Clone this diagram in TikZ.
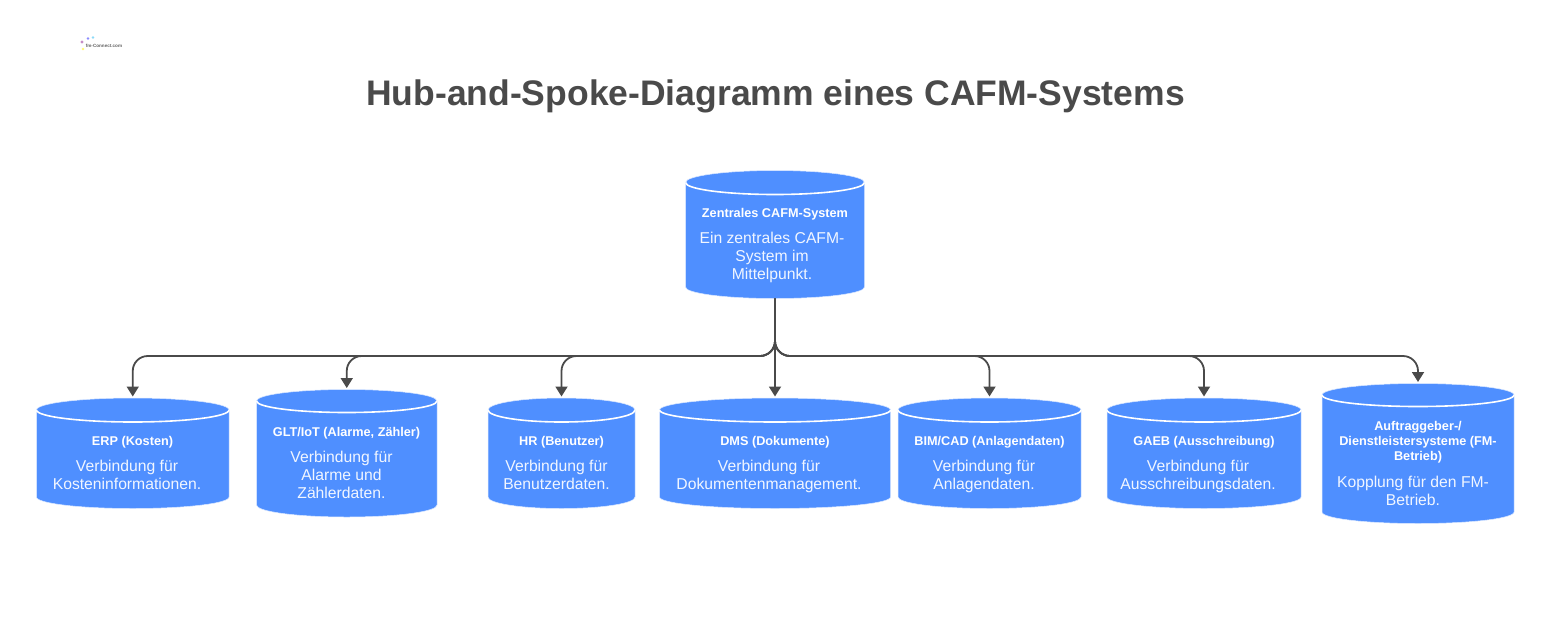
\documentclass[tikz,border=0pt]{standalone}
\usepackage{fontspec}
\setmainfont{Liberation Sans}
\usetikzlibrary{arrows.meta}
\definecolor{cylblue}{HTML}{4F8FFF}
\definecolor{ink}{HTML}{4A4A4A}
\tikzset{
  x=1pt,y=-1pt,
  cylbox/.style={rectangle,inner sep=0pt,outer sep=0pt,draw=none},
  cylfill/.style={fill=cylblue,draw=cylblue!20!white,line width=0.5pt},
  cylrim/.style={draw=white,line width=1.6pt},
  cyltitle/.style={text=white,align=center,font=\fontsize{12.7}{14.8}\selectfont\bfseries,inner sep=0pt},
  cyldesc/.style={text=white!92!cylblue,align=center,font=\fontsize{15.7}{18}\selectfont,inner sep=0pt},
  link/.style={draw=ink,line width=1.8pt,rounded corners=15pt,-{Triangle[length=10pt,width=12pt]}},
  trunk/.style={draw=ink,line width=1.8pt,-{Triangle[length=10pt,width=12pt]}},
  heading/.style={text=ink,font=\fontsize{35.5}{42}\selectfont\bfseries,inner sep=0pt}
}
% name, left, right, top, mid, sideEnd, bottom
\newcommand{\cylshape}[7]{%
  \pgfmathsetmacro{\cx}{(#2+#3)/2}\pgfmathsetmacro{\rx}{(#3-#2)/2}%
  \pgfmathsetmacro{\ry}{#5-#4}\pgfmathsetmacro{\ryb}{#7-#6}%
  \path[cylfill] (#2,#5) -- (#2,#6) arc[start angle=180,end angle=360,x radius=\rx,y radius=-\ryb]
     -- (#3,#5) arc[start angle=0,end angle=180,x radius=\rx,y radius=-\ry] -- cycle;
  \path[cylrim] (#2,#5) arc[start angle=180,end angle=360,x radius=\rx,y radius=-\ry];
  \node[cylbox,minimum width=#3 pt-#2 pt,minimum height=#7 pt-#4 pt] (#1) at (\cx,{(#4+#7)/2}) {};
}
\begin{document}
\begin{tikzpicture}
\useasboundingbox (0,0) rectangle (1558,622);
\fill[white] (0,0) rectangle (1558,622);

% logo
\fill[white!55!violet] (82,42) circle (1.6);
\fill[white!55!blue] (88,38.5) circle (1.4);
\fill[white!45!yellow] (83,49) circle (1.4);
\fill[white!55!cyan] (93,37.5) circle (1.4);
\node[inner sep=0pt,text=ink!85,font=\fontsize{4.6}{5}\selectfont\bfseries] (logo) at (104,45.5) {fm-Connect.com};

\node[heading] (title) at (775.5,96.5) {Hub-and-Spoke-Diagramm eines CAFM-Systems};

\cylshape{hub}{685.5}{864.5}{170.5}{182.5}{287}{298.5}
\cylshape{erp}{36.5}{229}{398}{410}{497}{508.5}
\cylshape{glt}{256.5}{437}{389.5}{401}{505}{517}
\cylshape{hr}{488}{635}{398}{410}{497}{508.5}
\cylshape{dms}{659.5}{890.5}{398}{410}{497}{508.5}
\cylshape{bim}{898}{1081}{398}{410}{497}{508.5}
\cylshape{gaeb}{1107}{1301}{398}{410}{497}{508.5}
\cylshape{auf}{1322}{1514}{383.5}{395}{512}{523.5}

\node[cyltitle] (hubt) at (775,214.5) {Zentrales CAFM-System};
\node[cyldesc] (hubd) at (772,257.5) {Ein zentrales CAFM-\\System im\\Mittelpunkt.};
\node[cyltitle] (erpt) at (132.5,442) {ERP (Kosten)};
\node[cyldesc] (erpd) at (127,475) {Verbindung für\\Kosteninformationen.};
\node[cyltitle] (gltt) at (346.5,433) {GLT/IoT (Alarme, Zähler)};
\node[cyldesc] (gltd) at (341.5,475) {Verbindung für\\Alarme und\\Zählerdaten.};
\node[cyltitle] (hrt) at (561.5,442) {HR (Benutzer)};
\node[cyldesc] (hrd) at (556.5,475) {Verbindung für\\Benutzerdaten.};
\node[cyltitle] (dmst) at (775,442) {DMS (Dokumente)};
\node[cyldesc] (dmsd) at (769,476.5) {Verbindung für\\Dokumentenmanagement.};
\node[cyltitle] (bimt) at (989.5,442) {BIM/CAD (Anlagendaten)};
\node[cyldesc] (bimd) at (984,476.5) {Verbindung für\\Anlagendaten.};
\node[cyltitle] (gaebt) at (1204,442) {GAEB (Ausschreibung)};
\node[cyldesc] (gaebd) at (1198,476.5) {Verbindung für\\Ausschreibungsdaten.};
\node[cyltitle] (auft) at (1418,442) {Auftraggeber-/\\Dienstleistersysteme (FM-\\Betrieb)};
\node[cyldesc] (aufd) at (1413,490.5) {Kopplung für den FM-\\Betrieb.};

\coordinate (busy) at (775,356);
\foreach \t in {erp,glt,hr,bim,gaeb,auf}{
  \draw[link] (hub.south) -- (hub.south |- busy) -- (busy -| \t.north) -- ([yshift=1.5pt]\t.north);
}
\draw[trunk] (hub.south) -- ([yshift=1.5pt]dms.north);
\end{tikzpicture}
\end{document}
